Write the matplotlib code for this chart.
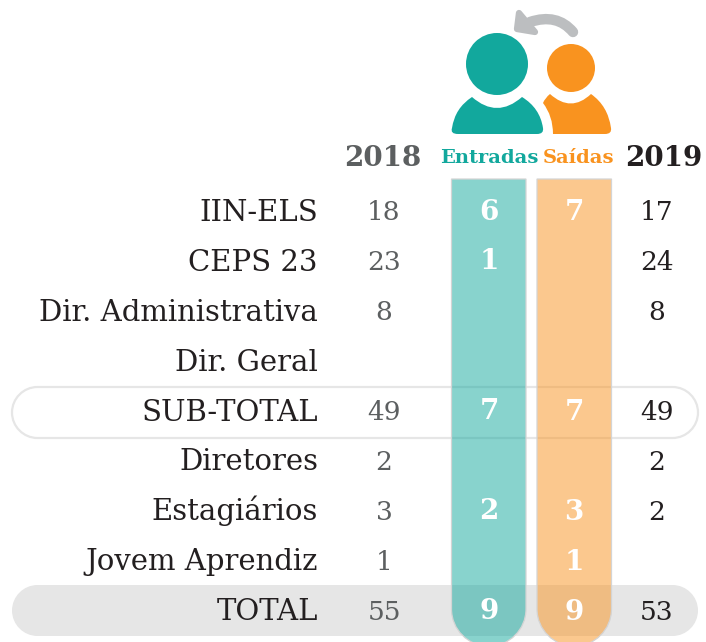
import matplotlib
matplotlib.use('Agg')
import matplotlib.pyplot as plt
from matplotlib.patches import Circle, PathPatch, Polygon
from matplotlib.path import Path

labels = ['IIN-ELS', 'CEPS 23', 'Dir. Administrativa', 'Dir. Geral', 'SUB-TOTAL',
          'Diretores', 'Estagiários', 'Jovem Aprendiz', 'TOTAL']
v2018 = [18, 23, 8, None, 49, 2, 3, 1, 55]
entradas = [6, 1, None, None, 7, None, 2, None, 9]
saidas = [7, None, None, None, 7, None, 3, 1, 9]
v2019 = [17, 24, 8, None, 49, 2, 2, None, 53]
headers = ['2018', 'Entradas', 'Saídas', '2019']

TEAL = '#12a89d'
ORANGE = '#f9931f'
GRAY = '#5c5f60'
DARK = '#231f20'
SERIF = ['DejaVu Serif']

fig = plt.figure(figsize=(7.06, 6.42), dpi=100)
ax = fig.add_axes([0, 0, 1, 1])
ax.set_xlim(0, 706)
ax.set_ylim(642, 0)
ax.axis('off')

row_y = [211 + 49.9 * i for i in range(len(labels))]
C4 = Path.CURVE4


def pill(x0, x1, y0, y1, **kw):
    r = (y1 - y0) / 2
    k = 0.55 * r
    ym = y0 + r
    verts = [(x0 + r, y0), (x1 - r, y0),
             (x1 - r + k, y0), (x1, ym - k), (x1, ym),
             (x1, ym + k), (x1 - r + k, y1), (x1 - r, y1),
             (x0 + r, y1),
             (x0 + r - k, y1), (x0, ym + k), (x0, ym),
             (x0, ym - k), (x0 + r - k, y0), (x0 + r, y0),
             (x0 + r, y0)]
    codes = [Path.MOVETO, Path.LINETO, C4, C4, C4, C4, C4, C4, Path.LINETO,
             C4, C4, C4, C4, C4, C4, Path.CLOSEPOLY]
    ax.add_patch(PathPatch(Path(verts, codes), **kw))


pill(12, 698, 387, 438, fc='white', ec='#e6e6e6', lw=1.6, zorder=1)
pill(12, 698, 585, 636, fc='#e6e6e6', ec='none', zorder=1)


def column(x0, x1, color):
    r = (x1 - x0) / 2
    k = 0.55 * r
    bottom = 609
    verts = [(x0, 179), (x1, 179), (x1, bottom),
             (x1, bottom + k), (x0 + r + k, bottom + r), (x0 + r, bottom + r),
             (x0 + r - k, bottom + r), (x0, bottom + k), (x0, bottom), (x0, 179)]
    codes = [Path.MOVETO, Path.LINETO, Path.LINETO,
             C4, C4, C4, C4, C4, C4, Path.CLOSEPOLY]
    ax.add_patch(PathPatch(Path(verts, codes), fc=color, alpha=0.5, ec='none', zorder=2))
    ax.add_patch(PathPatch(Path(verts, codes), fc='none', ec='#d4d4d4', lw=0.9, zorder=2.1))


column(451.5, 526, TEAL)
column(537, 611.5, ORANGE)


def body(pts, color):
    verts = [p for p, _ in pts]
    codes = [c for _, c in pts]
    ax.add_patch(PathPatch(Path(verts, codes), fc=color, ec='none', zorder=3))


M, L, C = Path.MOVETO, Path.LINETO, Path.CURVE3
ax.add_patch(Circle((497, 64), 31, fc=TEAL, ec='none', zorder=3))
body([((472, 97), M), ((497, 119), C), ((522, 97), C), ((540, 108), C), ((543, 128), C),
      ((544, 134), C), ((537, 134), C), ((458, 134), L), ((450, 134), C), ((452, 128), C),
      ((455, 108), C), ((472, 97), C), ((472, 97), Path.CLOSEPOLY)], TEAL)
ax.add_patch(Circle((571, 68), 24, fc=ORANGE, ec='none', zorder=3))
body([((550, 94), M), ((571, 113), C), ((591, 94), C), ((608, 106), C), ((611, 128), C),
      ((612, 134), C), ((605, 134), C), ((553, 134), L), ((553, 116), C), ((543, 103), C),
      ((545, 98), C), ((550, 94), C), ((550, 94), Path.CLOSEPOLY)], ORANGE)

# seta
ax.add_patch(PathPatch(Path([(573, 32), (557, 13), (530, 22)], [M, C, C]),
                       fc='none', ec='#bcbec0', lw=7.5, capstyle='round', zorder=3))
ax.add_patch(Polygon([(519, 13), (517, 29), (535, 32)], closed=True, fc='#bcbec0',
                     ec='#bcbec0', lw=4.5, joinstyle='round', zorder=3))

header_x = [383, 489, 578, 664]
header_c = [GRAY, TEAL, ORANGE, DARK]
header_s = [20, 14, 14, 20]
for h, x, c, s in zip(headers, header_x, header_c, header_s):
    ax.text(x, 158, h, ha='center', va='center', color=c, fontsize=s,
            fontweight='bold', family=SERIF, zorder=5)

for i, y in enumerate(row_y):
    ax.text(318, y + 10, labels[i], ha='right', va='baseline', color=DARK, fontsize=21,
            family=SERIF, zorder=5)
    if v2018[i] is not None:
        ax.text(384, y + 2, str(v2018[i]), ha='center', va='center', color=GRAY,
                fontsize=19, family=SERIF, zorder=5)
    if entradas[i] is not None:
        ax.text(489, y + 1, str(entradas[i]), ha='center', va='center', color='white',
                fontsize=20, fontweight='bold', family=SERIF, zorder=5)
    if saidas[i] is not None:
        ax.text(574, y + 2, str(saidas[i]), ha='center', va='center', color='white',
                fontsize=20, fontweight='bold', family=SERIF, zorder=5)
    if v2019[i] is not None:
        ax.text(657, y + 2, str(v2019[i]), ha='center', va='center', color=DARK,
                fontsize=19, family=SERIF, zorder=5)

fig.savefig('out.png', dpi=100)
